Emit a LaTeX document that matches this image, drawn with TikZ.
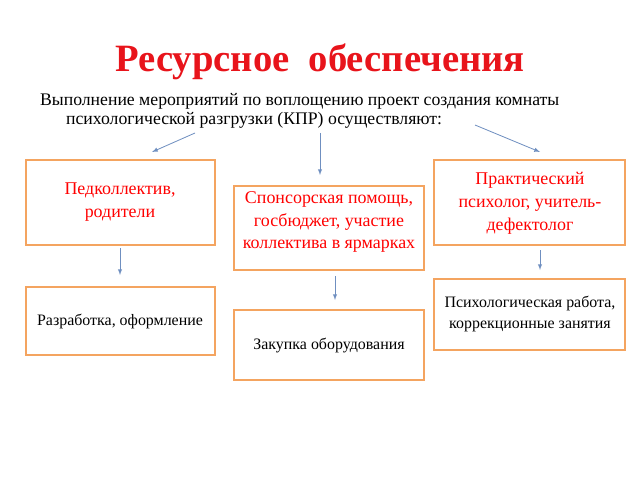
\documentclass[tikz,border=0pt]{standalone}
\usepackage{fontspec}
\setmainfont{Liberation Serif}
\usetikzlibrary{shadows}
\definecolor{boxline}{HTML}{F4A460}
\definecolor{arrowc}{HTML}{6F8FC0}
\definecolor{titlered}{HTML}{E8141B}
\begin{document}
\begin{tikzpicture}[x=0.03cm,y=-0.03cm,
  card/.style={draw=boxline,line width=1.2pt,fill=white,
    drop shadow={opacity=0.25,shadow xshift=1pt,shadow yshift=-1pt}},
  cardtext/.style={align=center,font=\fontsize{15.3}{19.5}\selectfont},
  plaintext/.style={align=center,font=\fontsize{13.6}{18}\selectfont},
  link/.style={-latex,arrowc,line width=0.7pt}]
  \useasboundingbox (0,0) rectangle (640,480);

  \node[titlered,font=\fontsize{33}{38}\bfseries\selectfont] (title) at (320,62) {Ресурсное\ \ обеспечения};
  \node[anchor=west,font=\fontsize{15.1}{18}\selectfont] (intro1) at (36,101) {Выполнение мероприятий по воплощению проект создания комнаты};
  \node[anchor=west,font=\fontsize{15.1}{18}\selectfont] (intro2) at (62,120) {психологической разгрузки (КПР) осуществляют:};

  \coordinate (a1) at (195,133);
  \coordinate (a2) at (320,133);
  \coordinate (a3) at (475,125);

  \draw[card] (26,160) rectangle (215,245);
  \draw[card] (234,186) rectangle (424,270);
  \draw[card] (434,160) rectangle (625,245);
  \draw[card] (26,287) rectangle (215,355);
  \draw[card] (234,310) rectangle (424,380);
  \draw[card] (434,279) rectangle (625,350);

  \node[cardtext,red] (ped) at (120,202) {Педколлектив,\\родители};
  \node[cardtext,red] (spons) at (329,222) {Спонсорская помощь,\\госбюджет, участие\\коллектива в ярмарках};
  \node[cardtext,red] (psych) at (530,203) {Практический\\психолог, учитель-\\дефектолог};
  \node[plaintext] (dev) at (120,321) {Разработка, оформление};
  \node[plaintext] (buy) at (329,346) {Закупка оборудования};
  \node[plaintext] (work) at (530,314) {Психологическая работа,\\коррекционные занятия};

  \draw[link] (a1) -- (152,152);
  \draw[link] (a2) -- (320,175);
  \draw[link] (a3) -- (540,152);
  \draw[link] (120,248) -- (120,275);
  \draw[link] (335,276) -- (335,300);
  \draw[link] (540,250) -- (540,270);
\end{tikzpicture}
\end{document}
